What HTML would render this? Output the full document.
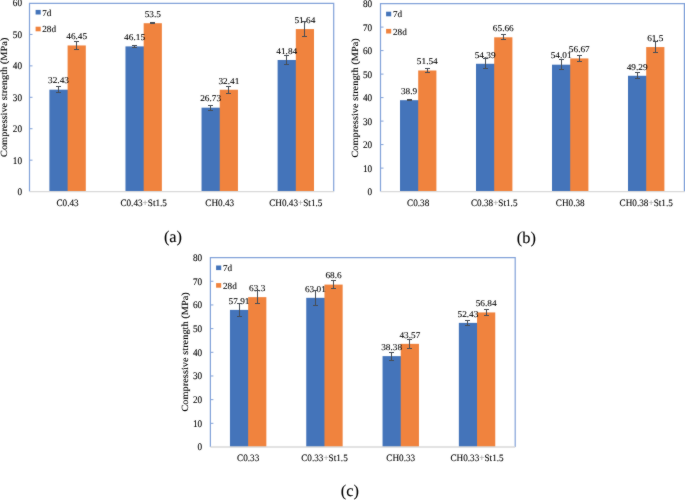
<!DOCTYPE html>
<html><head><meta charset="utf-8"><style>
html,body{margin:0;padding:0;background:#fff;}
body{width:685px;height:500px;overflow:hidden;}
svg{display:block;will-change:transform;}
text{font-family:"Liberation Serif",serif;fill:#000000;text-rendering:geometricPrecision;stroke:#000000;stroke-width:0.1px;}
.yl{font-size:9.2px;text-anchor:end;}
.dl{font-size:9.3px;text-anchor:middle;}
.xl{font-size:9.2px;text-anchor:middle;}
.lg{font-size:9.2px;}
.yt{font-size:9.45px;text-anchor:middle;}
.cap{font-size:16.4px;text-anchor:middle;fill:#000;}
</style></head><body>
<svg width="685" height="500" viewBox="0 0 685 500">
<defs><filter id="soft" x="0" y="0" width="685" height="500" filterUnits="userSpaceOnUse" color-interpolation-filters="sRGB"><feConvolveMatrix order="3" kernelMatrix="1 2 1 2 32 2 1 2 1" edgeMode="duplicate"/></filter></defs>
<g filter="url(#soft)">
<rect width="685" height="500" fill="#fff"/>
<path d="M29.5 191.6V3.3H333.7V191.6" fill="none" stroke="#82A2D9" stroke-width="1.2"/>
<text transform="translate(22.00 195.00) scale(1 1.1)" class="yl">0</text>
<line x1="29.5" y1="160.17" x2="32.5" y2="160.17" stroke="#82A2D9" stroke-width="1"/>
<text transform="translate(22.00 163.57) scale(1 1.1)" class="yl">10</text>
<line x1="29.5" y1="128.73" x2="32.5" y2="128.73" stroke="#82A2D9" stroke-width="1"/>
<text transform="translate(22.00 132.13) scale(1 1.1)" class="yl">20</text>
<line x1="29.5" y1="97.30" x2="32.5" y2="97.30" stroke="#82A2D9" stroke-width="1"/>
<text transform="translate(22.00 100.70) scale(1 1.1)" class="yl">30</text>
<line x1="29.5" y1="65.87" x2="32.5" y2="65.87" stroke="#82A2D9" stroke-width="1"/>
<text transform="translate(22.00 69.27) scale(1 1.1)" class="yl">40</text>
<line x1="29.5" y1="34.43" x2="32.5" y2="34.43" stroke="#82A2D9" stroke-width="1"/>
<text transform="translate(22.00 37.83) scale(1 1.1)" class="yl">50</text>
<text transform="translate(22.00 6.40) scale(1 1.1)" class="yl">60</text>
<rect x="49.40" y="89.68" width="19.00" height="101.92" fill="#4474BA"/>
<rect x="67.60" y="45.45" width="18.20" height="146.15" fill="#F0833E"/>
<rect x="125.47" y="46.40" width="19.00" height="145.20" fill="#4474BA"/>
<rect x="143.67" y="23.21" width="18.20" height="168.39" fill="#F0833E"/>
<rect x="201.54" y="107.67" width="19.00" height="83.93" fill="#4474BA"/>
<rect x="219.74" y="89.75" width="18.20" height="101.85" fill="#F0833E"/>
<rect x="277.61" y="59.99" width="19.00" height="131.61" fill="#4474BA"/>
<rect x="295.81" y="29.08" width="18.20" height="162.52" fill="#F0833E"/>
<line x1="29.5" y1="191.6" x2="334.0" y2="191.6" stroke="#D9D9D9" stroke-width="1.3"/>
<text transform="translate(58.50 83.48) scale(1 0.95)" class="dl">32.43</text>
<text transform="translate(76.70 39.25) scale(1 0.95)" class="dl">46.45</text>
<path d="M58.50 86.50V92.50M56.00 86.50H61.00M56.00 92.50H61.00" stroke="#474D55" stroke-width="1" fill="none"/>
<path d="M76.50 41.50V49.50M74.00 41.50H79.00M74.00 49.50H79.00" stroke="#474D55" stroke-width="1" fill="none"/>
<text transform="translate(67.60 206.00) scale(1 1.05)" class="xl">C0.43</text>
<text transform="translate(134.57 40.20) scale(1 0.95)" class="dl">46.15</text>
<text transform="translate(152.77 17.01) scale(1 0.95)" class="dl">53.5</text>
<path d="M134.50 45.50V47.50M132.00 45.50H137.00M132.00 47.50H137.00" stroke="#474D55" stroke-width="1" fill="none"/>
<path d="M152.50 22.50V23.50M150.00 22.50H155.00M150.00 23.50H155.00" stroke="#474D55" stroke-width="1" fill="none"/>
<text transform="translate(143.67 206.00) scale(1 1.05)" class="xl">C0.43<tspan style="fill:#9a9a9a;stroke:#9a9a9a">+</tspan>St1.5</text>
<text transform="translate(210.64 101.47) scale(1 0.95)" class="dl">26.73</text>
<text transform="translate(228.84 83.55) scale(1 0.95)" class="dl">32.41</text>
<path d="M210.50 105.50V110.50M208.00 105.50H213.00M208.00 110.50H213.00" stroke="#474D55" stroke-width="1" fill="none"/>
<path d="M228.50 86.50V93.50M226.00 86.50H231.00M226.00 93.50H231.00" stroke="#474D55" stroke-width="1" fill="none"/>
<text transform="translate(219.74 206.00) scale(1 1.05)" class="xl">CH0.43</text>
<text transform="translate(286.71 53.79) scale(1 0.95)" class="dl">41.84</text>
<text transform="translate(304.91 22.88) scale(1 0.95)" class="dl">51.64</text>
<path d="M286.50 55.50V64.50M284.00 55.50H289.00M284.00 64.50H289.00" stroke="#474D55" stroke-width="1" fill="none"/>
<path d="M304.50 21.50V36.50M302.00 21.50H307.00M302.00 36.50H307.00" stroke="#474D55" stroke-width="1" fill="none"/>
<text transform="translate(295.81 206.00) scale(1 1.05)" class="xl">CH0.43<tspan style="fill:#9a9a9a;stroke:#9a9a9a">+</tspan>St1.5</text>
<rect x="35.6" y="9.9" width="5.1" height="4.6" fill="#4474BA"/>
<text transform="translate(42.20 15.60) scale(1 1.0)" class="lg">7d</text>
<rect x="35.6" y="26.7" width="5.1" height="4.6" fill="#F0833E"/>
<text transform="translate(42.20 31.60) scale(1 1.0)" class="lg">28d</text>
<text transform="translate(7.00 97.30) scale(1 1.1) rotate(-90)" class="yt">Compressive strength (MPa)</text>
<text x="173.0" y="242.0" class="cap">(a)</text>
<path d="M380.5 191.6V3.6H684.4V191.6" fill="none" stroke="#82A2D9" stroke-width="1.2"/>
<text transform="translate(372.10 195.00) scale(1 1.1)" class="yl">0</text>
<line x1="380.5" y1="168.10" x2="383.5" y2="168.10" stroke="#82A2D9" stroke-width="1"/>
<text transform="translate(372.10 171.50) scale(1 1.1)" class="yl">10</text>
<line x1="380.5" y1="144.60" x2="383.5" y2="144.60" stroke="#82A2D9" stroke-width="1"/>
<text transform="translate(372.10 148.00) scale(1 1.1)" class="yl">20</text>
<line x1="380.5" y1="121.10" x2="383.5" y2="121.10" stroke="#82A2D9" stroke-width="1"/>
<text transform="translate(372.10 124.50) scale(1 1.1)" class="yl">30</text>
<line x1="380.5" y1="97.60" x2="383.5" y2="97.60" stroke="#82A2D9" stroke-width="1"/>
<text transform="translate(372.10 101.00) scale(1 1.1)" class="yl">40</text>
<line x1="380.5" y1="74.10" x2="383.5" y2="74.10" stroke="#82A2D9" stroke-width="1"/>
<text transform="translate(372.10 77.50) scale(1 1.1)" class="yl">50</text>
<line x1="380.5" y1="50.60" x2="383.5" y2="50.60" stroke="#82A2D9" stroke-width="1"/>
<text transform="translate(372.10 54.00) scale(1 1.1)" class="yl">60</text>
<line x1="380.5" y1="27.10" x2="383.5" y2="27.10" stroke="#82A2D9" stroke-width="1"/>
<text transform="translate(372.10 30.50) scale(1 1.1)" class="yl">70</text>
<text transform="translate(372.10 7.00) scale(1 1.1)" class="yl">80</text>
<rect x="400.00" y="100.18" width="19.00" height="91.42" fill="#4474BA"/>
<rect x="418.20" y="70.48" width="18.20" height="121.12" fill="#F0833E"/>
<rect x="476.00" y="63.78" width="19.00" height="127.82" fill="#4474BA"/>
<rect x="494.20" y="37.30" width="18.20" height="154.30" fill="#F0833E"/>
<rect x="552.00" y="64.68" width="19.00" height="126.92" fill="#4474BA"/>
<rect x="570.20" y="58.43" width="18.20" height="133.17" fill="#F0833E"/>
<rect x="628.00" y="75.77" width="19.00" height="115.83" fill="#4474BA"/>
<rect x="646.20" y="47.07" width="18.20" height="144.53" fill="#F0833E"/>
<line x1="380.5" y1="191.6" x2="684.5" y2="191.6" stroke="#D9D9D9" stroke-width="1.3"/>
<text transform="translate(409.10 93.98) scale(1 0.95)" class="dl">38.9</text>
<text transform="translate(427.30 64.28) scale(1 0.95)" class="dl">51.54</text>
<path d="M409.50 99.50V100.50M407.00 99.50H412.00M407.00 100.50H412.00" stroke="#474D55" stroke-width="1" fill="none"/>
<path d="M427.50 68.50V72.50M425.00 68.50H430.00M425.00 72.50H430.00" stroke="#474D55" stroke-width="1" fill="none"/>
<text transform="translate(418.20 206.10) scale(1 1.05)" class="xl">C0.38</text>
<text transform="translate(485.10 57.58) scale(1 0.95)" class="dl">54.39</text>
<text transform="translate(503.30 31.10) scale(1 0.95)" class="dl">65.66</text>
<path d="M485.50 58.50V68.50M483.00 58.50H488.00M483.00 68.50H488.00" stroke="#474D55" stroke-width="1" fill="none"/>
<path d="M503.50 34.50V39.50M501.00 34.50H506.00M501.00 39.50H506.00" stroke="#474D55" stroke-width="1" fill="none"/>
<text transform="translate(494.20 206.10) scale(1 1.05)" class="xl">C0.38<tspan style="fill:#9a9a9a;stroke:#9a9a9a">+</tspan>St1.5</text>
<text transform="translate(561.10 58.48) scale(1 0.95)" class="dl">54.01</text>
<text transform="translate(579.30 52.23) scale(1 0.95)" class="dl">56.67</text>
<path d="M561.50 59.50V69.50M559.00 59.50H564.00M559.00 69.50H564.00" stroke="#474D55" stroke-width="1" fill="none"/>
<path d="M579.50 55.50V61.50M577.00 55.50H582.00M577.00 61.50H582.00" stroke="#474D55" stroke-width="1" fill="none"/>
<text transform="translate(570.20 206.10) scale(1 1.05)" class="xl">CH0.38</text>
<text transform="translate(637.10 69.57) scale(1 0.95)" class="dl">49.29</text>
<text transform="translate(655.30 40.87) scale(1 0.95)" class="dl">61.5</text>
<path d="M637.50 72.50V78.50M635.00 72.50H640.00M635.00 78.50H640.00" stroke="#474D55" stroke-width="1" fill="none"/>
<path d="M655.50 41.50V52.50M653.00 41.50H658.00M653.00 52.50H658.00" stroke="#474D55" stroke-width="1" fill="none"/>
<text transform="translate(646.20 206.10) scale(1 1.05)" class="xl">CH0.38<tspan style="fill:#9a9a9a;stroke:#9a9a9a">+</tspan>St1.5</text>
<rect x="386.1" y="11.7" width="5.1" height="4.6" fill="#4474BA"/>
<text transform="translate(393.00 16.70) scale(1 1.0)" class="lg">7d</text>
<rect x="386.1" y="28.9" width="5.1" height="4.6" fill="#F0833E"/>
<text transform="translate(393.00 34.60) scale(1 1.0)" class="lg">28d</text>
<text transform="translate(358.00 97.90) scale(1 1.1) rotate(-90)" class="yt">Compressive strength (MPa)</text>
<text x="526.4" y="242.6" class="cap">(b)</text>
<path d="M210.4 447.0V257.6H515.2V447.0" fill="none" stroke="#82A2D9" stroke-width="1.2"/>
<text transform="translate(202.20 450.40) scale(1 1.1)" class="yl">0</text>
<line x1="210.4" y1="423.32" x2="213.4" y2="423.32" stroke="#82A2D9" stroke-width="1"/>
<text transform="translate(202.20 426.72) scale(1 1.1)" class="yl">10</text>
<line x1="210.4" y1="399.65" x2="213.4" y2="399.65" stroke="#82A2D9" stroke-width="1"/>
<text transform="translate(202.20 403.05) scale(1 1.1)" class="yl">20</text>
<line x1="210.4" y1="375.98" x2="213.4" y2="375.98" stroke="#82A2D9" stroke-width="1"/>
<text transform="translate(202.20 379.38) scale(1 1.1)" class="yl">30</text>
<line x1="210.4" y1="352.30" x2="213.4" y2="352.30" stroke="#82A2D9" stroke-width="1"/>
<text transform="translate(202.20 355.70) scale(1 1.1)" class="yl">40</text>
<line x1="210.4" y1="328.62" x2="213.4" y2="328.62" stroke="#82A2D9" stroke-width="1"/>
<text transform="translate(202.20 332.02) scale(1 1.1)" class="yl">50</text>
<line x1="210.4" y1="304.95" x2="213.4" y2="304.95" stroke="#82A2D9" stroke-width="1"/>
<text transform="translate(202.20 308.35) scale(1 1.1)" class="yl">60</text>
<line x1="210.4" y1="281.28" x2="213.4" y2="281.28" stroke="#82A2D9" stroke-width="1"/>
<text transform="translate(202.20 284.68) scale(1 1.1)" class="yl">70</text>
<text transform="translate(202.20 261.00) scale(1 1.1)" class="yl">80</text>
<rect x="229.95" y="309.90" width="19.00" height="137.10" fill="#4474BA"/>
<rect x="248.15" y="297.14" width="18.20" height="149.86" fill="#F0833E"/>
<rect x="306.25" y="297.82" width="19.00" height="149.18" fill="#4474BA"/>
<rect x="324.45" y="284.59" width="18.20" height="162.41" fill="#F0833E"/>
<rect x="382.55" y="356.14" width="19.00" height="90.86" fill="#4474BA"/>
<rect x="400.75" y="343.85" width="18.20" height="103.15" fill="#F0833E"/>
<rect x="458.85" y="322.87" width="19.00" height="124.13" fill="#4474BA"/>
<rect x="477.05" y="312.43" width="18.20" height="134.57" fill="#F0833E"/>
<line x1="210.4" y1="447.0" x2="515.3" y2="447.0" stroke="#D9D9D9" stroke-width="1.3"/>
<text transform="translate(239.05 303.70) scale(1 0.95)" class="dl">57.91</text>
<text transform="translate(257.25 290.94) scale(1 0.95)" class="dl">63.3</text>
<path d="M239.50 303.50V316.50M237.00 303.50H242.00M237.00 316.50H242.00" stroke="#474D55" stroke-width="1" fill="none"/>
<path d="M257.50 290.50V303.50M255.00 290.50H260.00M255.00 303.50H260.00" stroke="#474D55" stroke-width="1" fill="none"/>
<text transform="translate(248.15 461.10) scale(1 1.05)" class="xl">C0.33</text>
<text transform="translate(315.35 291.62) scale(1 0.95)" class="dl">63.01</text>
<text transform="translate(333.55 278.39) scale(1 0.95)" class="dl">68.6</text>
<path d="M315.50 290.50V305.50M313.00 290.50H318.00M313.00 305.50H318.00" stroke="#474D55" stroke-width="1" fill="none"/>
<path d="M333.50 280.50V288.50M331.00 280.50H336.00M331.00 288.50H336.00" stroke="#474D55" stroke-width="1" fill="none"/>
<text transform="translate(324.45 461.10) scale(1 1.05)" class="xl">C0.33<tspan style="fill:#9a9a9a;stroke:#9a9a9a">+</tspan>St1.5</text>
<text transform="translate(391.65 349.94) scale(1 0.95)" class="dl">38.38</text>
<text transform="translate(409.85 337.65) scale(1 0.95)" class="dl">43.57</text>
<path d="M391.50 352.50V360.50M389.00 352.50H394.00M389.00 360.50H394.00" stroke="#474D55" stroke-width="1" fill="none"/>
<path d="M409.50 339.50V348.50M407.00 339.50H412.00M407.00 348.50H412.00" stroke="#474D55" stroke-width="1" fill="none"/>
<text transform="translate(400.75 461.10) scale(1 1.05)" class="xl">CH0.33</text>
<text transform="translate(467.95 316.67) scale(1 0.95)" class="dl">52.43</text>
<text transform="translate(486.15 306.23) scale(1 0.95)" class="dl">56.84</text>
<path d="M467.50 320.50V325.50M465.00 320.50H470.00M465.00 325.50H470.00" stroke="#474D55" stroke-width="1" fill="none"/>
<path d="M486.50 309.50V315.50M484.00 309.50H489.00M484.00 315.50H489.00" stroke="#474D55" stroke-width="1" fill="none"/>
<text transform="translate(477.05 461.10) scale(1 1.05)" class="xl">CH0.33<tspan style="fill:#9a9a9a;stroke:#9a9a9a">+</tspan>St1.5</text>
<rect x="216.1" y="265.5" width="5.1" height="4.6" fill="#4474BA"/>
<text transform="translate(223.00 271.10) scale(1 1.0)" class="lg">7d</text>
<rect x="216.1" y="283.1" width="5.1" height="4.6" fill="#F0833E"/>
<text transform="translate(223.00 288.60) scale(1 1.0)" class="lg">28d</text>
<text transform="translate(187.90 351.90) scale(1 1.1) rotate(-90)" class="yt">Compressive strength (MPa)</text>
<text x="349.9" y="496.3" class="cap">(c)</text>
</g>
</svg>
</body></html>
